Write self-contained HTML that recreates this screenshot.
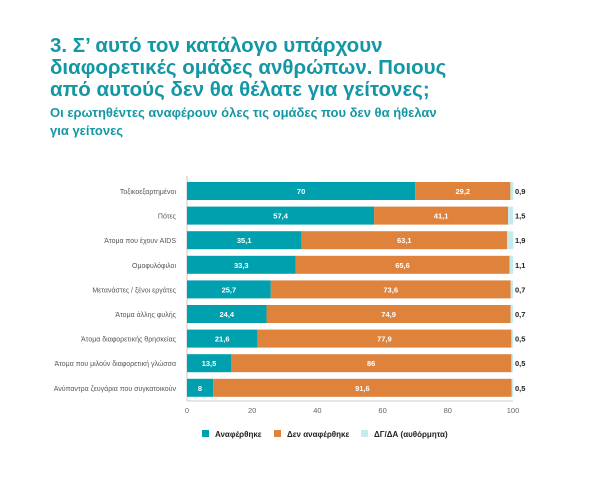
<!DOCTYPE html>
<html><head><meta charset="utf-8"><style>
body{margin:0;background:#fff;}
svg{display:block;font-family:"Liberation Sans","DejaVu Sans",sans-serif;}
.t{font-size:7.5px;font-weight:bold;fill:#fff;text-anchor:middle}
.r{font-size:7.5px;font-weight:bold;fill:#222}
.l{font-size:7px;fill:#555;text-anchor:end}
</style></head><body>
<svg width="600" height="480" viewBox="0 0 600 480" xmlns="http://www.w3.org/2000/svg">
<g fill="#1497a5" font-weight="bold">
<text x="50" y="52" font-size="20.5">3. Σ’ αυτό τον κατάλογο υπάρχουν</text>
<text x="50" y="74" font-size="20.5">διαφορετικές ομάδες ανθρώπων. Ποιους</text>
<text x="50" y="96" font-size="20.5">από αυτούς δεν θα θέλατε για γείτονες;</text>
<text x="50" y="117" font-size="13">Οι ερωτηθέντες αναφέρουν όλες τις ομάδες που δεν θα ήθελαν</text>
<text x="50" y="135" font-size="13">για γείτονες</text>
</g>
<line x1="187" y1="176" x2="187" y2="401" stroke="#bbb" stroke-width="0.8"/>
<line x1="187" y1="401" x2="513" y2="401" stroke="#bbb" stroke-width="0.8"/>

<g transform="translate(0,182)">
<rect x="187" y="0" width="228.2" height="18" fill="#00a0ae"/><rect x="415.2" y="0" width="95.2" height="18" fill="#de823c"/><rect x="510.4" y="0" width="2.9" height="18" fill="#c4ecef"/>
<text class="t" x="301.1" y="12">70</text><text class="t" x="462.8" y="12">29,2</text><text class="r" x="515" y="12">0,9</text><text class="l" x="176" y="12">Τοξικοεξαρτημένοι</text>
</g>
<g transform="translate(0,206.6)">
<rect x="187" y="0" width="187.1" height="18" fill="#00a0ae"/><rect x="374.1" y="0" width="134" height="18" fill="#de823c"/><rect x="508.1" y="0" width="4.9" height="18" fill="#c4ecef"/>
<text class="t" x="280.6" y="12">57,4</text><text class="t" x="441.1" y="12">41,1</text><text class="r" x="515" y="12">1,5</text><text class="l" x="176" y="12">Πότες</text>
</g>
<g transform="translate(0,231.2)">
<rect x="187" y="0" width="114.4" height="18" fill="#00a0ae"/><rect x="301.4" y="0" width="205.7" height="18" fill="#de823c"/><rect x="507.1" y="0" width="6.2" height="18" fill="#c4ecef"/>
<text class="t" x="244.2" y="12">35,1</text><text class="t" x="404.3" y="12">63,1</text><text class="r" x="515" y="12">1,9</text><text class="l" x="176" y="12">Άτομα που έχουν AIDS</text>
</g>
<g transform="translate(0,255.8)">
<rect x="187" y="0" width="108.6" height="18" fill="#00a0ae"/><rect x="295.6" y="0" width="213.9" height="18" fill="#de823c"/><rect x="509.5" y="0" width="3.6" height="18" fill="#c4ecef"/>
<text class="t" x="241.3" y="12">33,3</text><text class="t" x="402.5" y="12">65,6</text><text class="r" x="515" y="12">1,1</text><text class="l" x="176" y="12">Ομοφυλόφιλοι</text>
</g>
<g transform="translate(0,280.4)">
<rect x="187" y="0" width="83.8" height="18" fill="#00a0ae"/><rect x="270.8" y="0" width="239.9" height="18" fill="#de823c"/><rect x="510.7" y="0" width="2.3" height="18" fill="#c4ecef"/>
<text class="t" x="228.9" y="12">25,7</text><text class="t" x="390.7" y="12">73,6</text><text class="r" x="515" y="12">0,7</text><text class="l" x="176" y="12">Μετανάστες / ξένοι εργάτες</text>
</g>
<g transform="translate(0,305)">
<rect x="187" y="0" width="79.5" height="18" fill="#00a0ae"/><rect x="266.5" y="0" width="244.2" height="18" fill="#de823c"/><rect x="510.7" y="0" width="2.3" height="18" fill="#c4ecef"/>
<text class="t" x="226.8" y="12">24,4</text><text class="t" x="388.6" y="12">74,9</text><text class="r" x="515" y="12">0,7</text><text class="l" x="176" y="12">Άτομα άλλης φυλής</text>
</g>
<g transform="translate(0,329.6)">
<rect x="187" y="0" width="70.4" height="18" fill="#00a0ae"/><rect x="257.4" y="0" width="254" height="18" fill="#de823c"/><rect x="511.4" y="0" width="1.6" height="18" fill="#c4ecef"/>
<text class="t" x="222.2" y="12">21,6</text><text class="t" x="384.4" y="12">77,9</text><text class="r" x="515" y="12">0,5</text><text class="l" x="176" y="12">Άτομα διαφορετικής θρησκείας</text>
</g>
<g transform="translate(0,354.2)">
<rect x="187" y="0" width="44" height="18" fill="#00a0ae"/><rect x="231" y="0" width="280.4" height="18" fill="#de823c"/><rect x="511.4" y="0" width="1.6" height="18" fill="#c4ecef"/>
<text class="t" x="209" y="12">13,5</text><text class="t" x="371.2" y="12">86</text><text class="r" x="515" y="12">0,5</text><text class="l" x="176" y="12">Άτομα που μιλούν διαφορετική γλώσσα</text>
</g>
<g transform="translate(0,378.8)">
<rect x="187" y="0" width="26.1" height="18" fill="#00a0ae"/><rect x="213.1" y="0" width="298.6" height="18" fill="#de823c"/><rect x="511.7" y="0" width="1.6" height="18" fill="#c4ecef"/>
<text class="t" x="200" y="12">8</text><text class="t" x="362.4" y="12">91,6</text><text class="r" x="515" y="12">0,5</text><text class="l" x="176" y="12">Ανύπαντρα ζευγάρια που συγκατοικούν</text>
</g>

<g font-size="7.5" fill="#666" text-anchor="middle">
<text x="187" y="413">0</text><text x="252.2" y="413">20</text><text x="317.4" y="413">40</text><text x="382.6" y="413">60</text><text x="447.8" y="413">80</text><text x="513" y="413">100</text>
</g>
<g font-size="8" font-weight="bold" fill="#222">
<rect x="202" y="430" width="7" height="7" fill="#00a0ae"/><text x="215" y="437">Αναφέρθηκε</text>
<rect x="274" y="430" width="7" height="7" fill="#de823c"/><text x="287" y="437">Δεν αναφέρθηκε</text>
<rect x="361" y="430" width="7" height="7" fill="#c4ecef"/><text x="374" y="437">ΔΓ/ΔΑ (αυθόρμητα)</text>
</g>
</svg>
</body></html>
